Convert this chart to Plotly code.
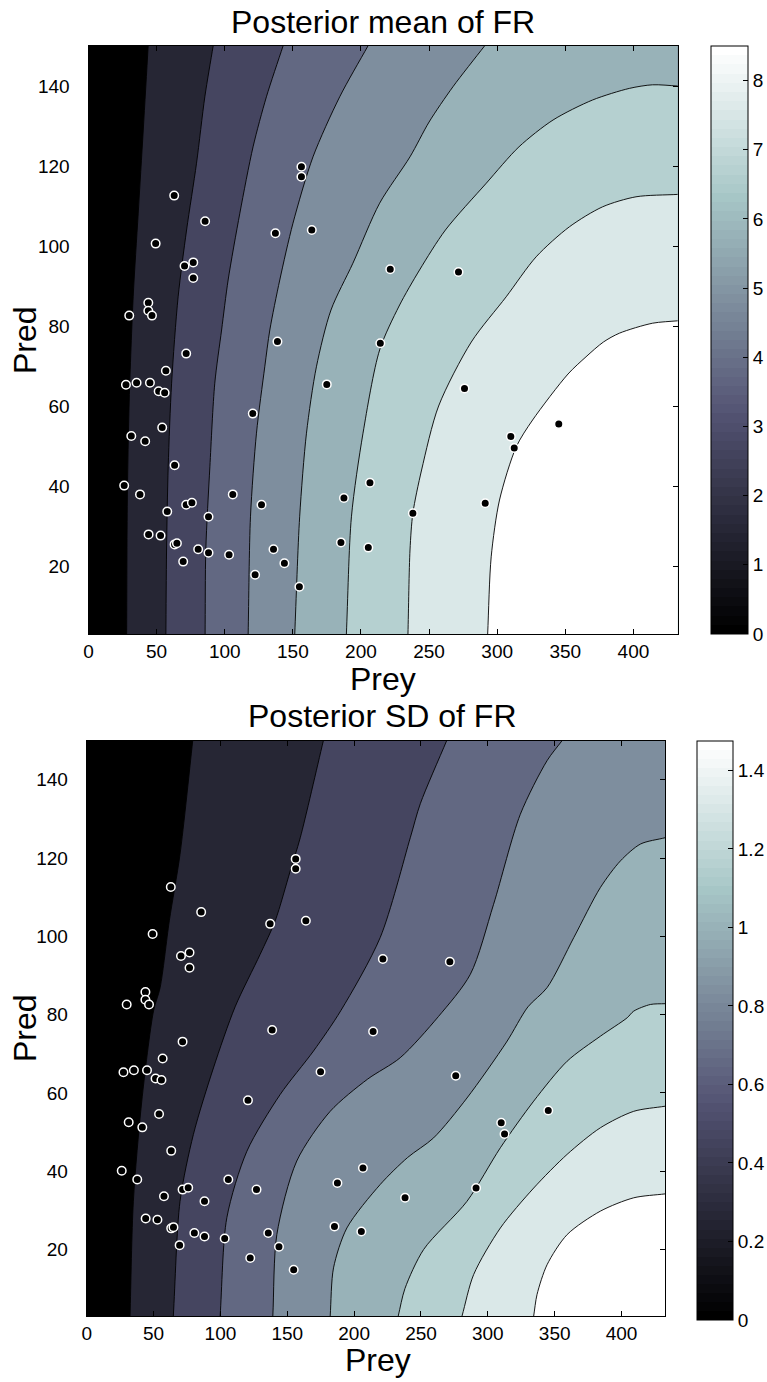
import plotly.graph_objects as go

W, H = 767, 1382
FONT = "Liberation Sans, Arial, Helvetica, sans-serif"

# ---------------- data ----------------
prey = [62.9, 156.3, 156.3, 49.3, 85.6, 137.2, 163.9, 70.5, 76.9, 76.9, 221.5, 43.9, 43.9, 46.6, 29.9,
        138.7, 214.2, 71.7, 56.8, 27.5, 35.3, 45.1, 51.5, 55.9, 174.9, 120.6, 54.1, 31.4, 41.6, 63.2,
        26.2, 37.8, 105.9, 206.6, 187.5, 127.0, 71.7, 75.9, 57.8, 88.1, 238.1, 44.1, 52.9, 63.2, 64.9,
        69.5, 80.5, 88.1, 103.2, 135.8, 143.8, 122.3, 154.8, 185.3, 205.4, 276.0, 345.2, 310.0, 312.5,
        291.2, 271.6]
pred = [112.6, 119.8, 117.3, 100.6, 106.2, 103.2, 104.0, 95.0, 95.9, 92.0, 94.2, 85.8, 83.8, 82.6, 82.6,
        76.1, 75.7, 73.1, 68.8, 65.3, 65.8, 65.8, 63.7, 63.3, 65.4, 58.1, 54.6, 52.5, 51.2, 45.2,
        40.1, 37.9, 37.9, 40.8, 37.0, 35.3, 35.3, 35.8, 33.6, 32.3, 33.2, 27.9, 27.6, 25.4, 25.7,
        21.1, 24.2, 23.3, 22.8, 24.2, 20.7, 17.8, 14.8, 25.9, 24.6, 64.4, 55.5, 52.4, 49.5,
        35.7, 93.5]

# Posterior mean: contour levels and the traced contour lines (Prey, Pred)
mean_levels = [1, 2, 3, 4, 5, 6, 7, 8]
mean_line_x = [
    [43.8, 40.2, 36.5, 32.8, 29.9, 28.5, 28.0],
    [91.5, 85.4, 79.3, 72.0, 65.8, 61.0, 58.5, 57.3, 56.8],
    [142.8, 130.6, 120.8, 111.1, 102.5, 97.7, 92.7, 89.1, 86.1, 85.6],
    [205.1, 184.4, 164.8, 150.1, 140.4, 133.1, 129.4, 123.3, 118.9, 117.2],
    [290.7, 267.5, 250.0, 236.0, 213.7, 194.1, 178.0, 167.3, 160.0, 155.0, 151.4],
    [432.5, 414.0, 397.0, 370.0, 341.0, 316.0, 292.0, 262.0, 243.0, 228.0, 213.7, 201.5, 193.0, 189.3],
    [432.5, 401.9, 377.4, 353.0, 328.6, 306.6, 281.0, 257.0, 244.5, 238.1, 236.0, 234.5],
    [432.5, 414.1, 389.7, 378.0, 365.2, 352.0, 326.0, 314.0, 301.7, 295.6, 293.0],
]
mean_line_y = [
    [150, 129, 108.2, 87.3, 61.5, 36.5, 3],
    [150, 137.3, 120.7, 104, 87.3, 65.7, 44.8, 24, 3],
    [150, 137.3, 124.8, 108.2, 91.5, 79, 65.7, 44.8, 24, 3],
    [150, 137.3, 122.3, 105.7, 91.5, 79, 69.8, 53.2, 32.3, 3],
    [150, 139.8, 131, 122.3, 110.7, 95.7, 84, 69.8, 53.2, 32.3, 3],
    [140, 140.3, 139.4, 136.5, 131.5, 124.8, 115.7, 104, 94, 85, 74, 53.2, 32.3, 3],
    [112.9, 112.3, 109.8, 104.8, 97.3, 87.3, 76, 60, 44, 33.2, 24, 3],
    [81.3, 80.7, 78.2, 76.0, 72.3, 68, 56.5, 49.8, 36.5, 22.3, 3],
]

# Posterior SD: contour levels and the traced contour lines (Prey, Pred)
sd_levels = [0.16, 0.32, 0.48, 0.64, 0.80, 0.96, 1.12, 1.28]
sd_line_x = [
    [79.3, 69.8, 61.8, 54.9, 50.0, 41.2, 34.9, 32.4],
    [177.0, 159.7, 152.2, 141.0, 129.7, 111.0, 94.8, 79.8, 69.8, 64.8],
    [269.2, 249.5, 242.0, 219.5, 190.0, 169.6, 144.7, 119.8, 104.8, 99.8],
    [355.5, 344.3, 324.3, 304.3, 286.9, 263.0, 234.5, 210.0, 182.1, 157.1, 142.2, 139.2],
    [432.5, 414.2, 399.2, 384.2, 364.3, 344.3, 330.0, 314.0, 284.4, 259.4, 240.0, 219.5, 194.6, 184.6, 182.1],
    [432.5, 421.6, 409.1, 404.2, 384.2, 359.3, 334.3, 309.4, 284.4, 252.0, 238.0, 233.0],
    [432.5, 409.1, 384.2, 359.3, 334.3, 309.4, 289.4, 280.7],
    [432.5, 409.1, 384.2, 359.3, 344.3, 336.8, 334.3],
]
sd_line_y = [
    [150, 121, 104, 86.9, 81, 57.9, 32.3, 3],
    [150, 125.2, 116.7, 104, 95.4, 82, 66.4, 49.4, 32.3, 3],
    [150, 133.9, 125.2, 99.7, 81, 70.7, 59.6, 45.1, 28.1, 3],
    [150, 144.9, 131.2, 108.2, 90.3, 79.5, 69, 63.5, 55.3, 42.6, 23.8, 3],
    [125.2, 123.6, 119.3, 112.5, 99.7, 86.9, 82, 73, 58.7, 48.5, 43.5, 36.6, 25.5, 15.3, 3],
    [82.8, 82.6, 80.9, 79.2, 74.5, 68.1, 57.9, 46, 32.3, 20, 10, 3],
    [56.6, 55.3, 51.1, 44.3, 35.7, 25.5, 13.6, 3],
    [34.2, 33.2, 29.8, 23.8, 16.1, 8.5, 3],
]

mean_cbar_range = [0, 8.5]
sd_cbar_range = [0, 1.475]

x_ticks = [0, 50, 100, 150, 200, 250, 300, 350, 400]
y_ticks = [20, 40, 60, 80, 100, 120, 140]
mean_cbar_ticks = [0, 1, 2, 3, 4, 5, 6, 7, 8]
sd_cbar_ticks = [0, 0.2, 0.4, 0.6, 0.8, 1.0, 1.2, 1.4]

X_RANGE = [0, 432.5]
Y_RANGE = [3, 150]

# position of each filled band along the bone colormap (style)
BAND_SHADE = [0.0, 0.17, 0.31, 0.44, 0.565, 0.68, 0.79, 0.895, 1.0]


# ---------------- styling helpers ----------------
def bone(t):
    c = lambda v: min(max(v, 0.0), 1.0)
    r = (7 * t + c((t - 0.75) * 4)) / 8
    g = (7 * t + c((t - 0.375) / 0.375)) / 8
    b = (7 * t + c(t / 0.375)) / 8
    return "rgb(%d,%d,%d)" % (round(r * 255), round(g * 255), round(b * 255))


def bone_steps(n=64):
    cs = []
    for i in range(n):
        col = bone(i / (n - 1))
        cs.append([i / n, col])
        cs.append([(i + 1) / n, col])
    return cs


BONE64 = bone_steps(64)


def px_x(p):
    return p / W


def px_y(p):
    return 1 - p / H


def extended(xs, ys):
    """Continue a traced line a little past the frame so clipping hides its ends."""
    ex = [2 * xs[0] - xs[1]] + list(xs) + [2 * xs[-1] - xs[-2]]
    ey = [2 * ys[0] - ys[1]] + list(ys) + [2 * ys[-1] - ys[-2]]
    return ex, ey


# pixel geometry: (left, top, right, bottom) of plot areas, (left, top, bottom, thickness) of colour bars
MEAN_AX = (88.5, 46, 677.7, 634)
SD_AX = (86.7, 740.7, 665, 1316)
MEAN_CB = (711, 46, 634, 37)
SD_CB = (697, 741, 1320, 36)

fig = go.Figure()

FAR_X = X_RANGE[1] + 200
FAR_LO = Y_RANGE[0] - 200
FAR_HI = Y_RANGE[1] + 200


def add_panel(xa, ya, ya_cb, levels, lx, ly, cbar_range, cbar_ticks, cbar_geom):
    for k, (lev, xs, ys) in enumerate(zip(levels, lx, ly), start=1):
        ex, ey = extended(xs, ys)
        fx = ex + [ex[-1], FAR_X]
        fy = ey + [FAR_LO, FAR_LO]
        if ys[0] >= Y_RANGE[1]:
            fx += [FAR_X, ex[0]]
            fy += [FAR_HI, FAR_HI]
        else:
            fx += [FAR_X]
            fy += [ey[0]]
        fig.add_trace(go.Scatter(
            x=fx, y=fy, mode="lines", fill="toself", fillcolor=bone(BAND_SHADE[k]),
            line=dict(width=0, shape="spline", smoothing=0.8),
            xaxis=xa, yaxis=ya, showlegend=False, hoverinfo="skip"))
        fig.add_trace(go.Scatter(
            x=ex, y=ey, mode="lines",
            line=dict(color="black", width=0.9, shape="spline", smoothing=0.8),
            xaxis=xa, yaxis=ya, showlegend=False, name="level %g" % lev, hoverinfo="skip"))
    fig.add_trace(go.Scatter(
        x=prey, y=pred, mode="markers",
        marker=dict(color="black", size=8.5, line=dict(color="white", width=1.5)),
        xaxis=xa, yaxis=ya, showlegend=False))
    cx, ctop, cbot, cth = cbar_geom
    fig.add_trace(go.Scatter(
        x=[prey[0]], y=[cbar_range[0]], mode="markers",
        marker=dict(color=[cbar_range[0]], cmin=cbar_range[0], cmax=cbar_range[1],
                    colorscale=BONE64, opacity=0, showscale=True,
                    colorbar=dict(
                        thickness=cth, thicknessmode="pixels",
                        len=(cbot - ctop) / H, lenmode="fraction",
                        x=px_x(cx), xanchor="left", y=px_y(ctop), yanchor="top",
                        xpad=0, ypad=0, outlinewidth=1, outlinecolor="black",
                        ticks="inside", ticklen=5, tickcolor="black", tickwidth=1,
                        tickvals=cbar_ticks,
                        tickfont=dict(family=FONT, size=19, color="black"))),
        xaxis=xa, yaxis=ya_cb, showlegend=False, hoverinfo="skip"))


add_panel("x", "y", "y3", mean_levels, mean_line_x, mean_line_y, mean_cbar_range, mean_cbar_ticks, MEAN_CB)
add_panel("x2", "y2", "y4", sd_levels, sd_line_x, sd_line_y, sd_cbar_range, sd_cbar_ticks, SD_CB)


def cb_axis_range(ax, cb, crange):
    # value range of a tick-only axis spanning the plot area, matched to the colour bar scale
    per = (cb[2] - cb[1]) / (crange[1] - crange[0])
    lo = crange[0] + (cb[2] - ax[3]) / per
    hi = crange[0] + (cb[2] - ax[1]) / per
    return [lo, hi]


axis_common = dict(showgrid=False, zeroline=False, showline=True, linecolor="black", linewidth=1,
                   mirror="ticks", ticks="inside", ticklen=5, tickcolor="black",
                   tickfont=dict(family=FONT, size=19, color="black"))

# left-side tick marks of the colour bars
cb_ticks_left = dict(showgrid=False, zeroline=False, showline=False, showticklabels=False,
                     ticks="inside", ticklen=5, tickcolor="black", side="left", anchor="free")

fig.update_layout(
    width=W, height=H, margin=dict(l=0, r=0, t=0, b=0, autoexpand=False),
    paper_bgcolor="white", plot_bgcolor="black",
    xaxis=dict(domain=[px_x(MEAN_AX[0]), px_x(MEAN_AX[2])], range=X_RANGE, tickvals=x_ticks,
               anchor="y", **axis_common),
    yaxis=dict(domain=[px_y(MEAN_AX[3]), px_y(MEAN_AX[1])], range=Y_RANGE, tickvals=y_ticks,
               anchor="x", ticklabelstandoff=14, **axis_common),
    xaxis2=dict(domain=[px_x(SD_AX[0]), px_x(SD_AX[2])], range=X_RANGE, tickvals=x_ticks,
                anchor="y2", **axis_common),
    yaxis2=dict(domain=[px_y(SD_AX[3]), px_y(SD_AX[1])], range=Y_RANGE, tickvals=y_ticks,
                anchor="x2", ticklabelstandoff=14, **axis_common),
    yaxis3=dict(overlaying="y", position=px_x(MEAN_CB[0]),
                range=cb_axis_range(MEAN_AX, MEAN_CB, mean_cbar_range),
                tickvals=mean_cbar_ticks, **cb_ticks_left),
    yaxis4=dict(overlaying="y2", position=px_x(SD_CB[0]),
                range=cb_axis_range(SD_AX, SD_CB, sd_cbar_range),
                tickvals=sd_cbar_ticks, **cb_ticks_left),
)

texts = [
    ("Posterior mean of FR", 383, 22, 0),
    ("Prey", 383, 679, 0),
    ("Pred", 25, 340, -90),
    ("Posterior SD of FR", 382, 716, 0),
    ("Prey", 378, 1360, 0),
    ("Pred", 25, 1028, -90),
]
for t, x, y, ang in texts:
    fig.add_annotation(text=t, x=px_x(x), y=px_y(y), xref="paper", yref="paper",
                       xanchor="center", yanchor="middle", showarrow=False, textangle=ang,
                       font=dict(family=FONT, size=32, color="black"))

fig.write_html("out.html")
